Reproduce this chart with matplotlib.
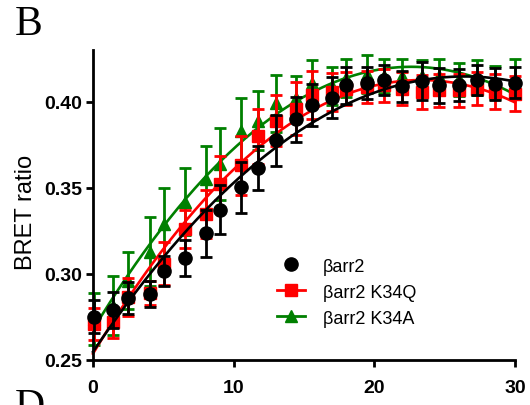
import numpy as np
import matplotlib
matplotlib.use("Agg")
import matplotlib.pyplot as plt
from matplotlib.lines import Line2D

# time points (min)
time = [0.07, 1.42, 2.49, 4.05, 5.05, 6.54, 8.03, 9.03, 10.5, 11.7, 13.0, 14.4,
        15.6, 17.0, 18.0, 19.5, 20.7, 22.0, 23.4, 24.6, 26.0, 27.3, 28.6, 30.0]

# beta-arrestin2 WT
wt_mean = [0.2752, 0.2791, 0.2860, 0.2884, 0.3019, 0.3093, 0.3235, 0.3372, 0.3504, 0.3615,
           0.3775, 0.3898, 0.3983, 0.4023, 0.4095, 0.4109, 0.4124, 0.4089, 0.4118, 0.4095,
           0.4095, 0.4124, 0.4101, 0.4110]
wt_err = [0.0094, 0.0103, 0.0095, 0.0076, 0.0087, 0.0106, 0.0135, 0.0143, 0.0148, 0.0130,
          0.0147, 0.0130, 0.0122, 0.0120, 0.0108, 0.0092, 0.0087, 0.0090, 0.0110, 0.0100,
          0.0092, 0.0087, 0.0092, 0.0090]

# K34Q
kq_mean = [0.2710, 0.2720, 0.2866, 0.2890, 0.3060, 0.3260, 0.3349, 0.3523, 0.3630, 0.3800,
           0.3890, 0.3960, 0.4037, 0.4058, 0.4076, 0.4085, 0.4095, 0.4075, 0.4056, 0.4066,
           0.4066, 0.4076, 0.4058, 0.4047]
kq_err = [0.0093, 0.0090, 0.0110, 0.0070, 0.0125, 0.0110, 0.0140, 0.0160, 0.0170, 0.0160,
          0.0147, 0.0155, 0.0140, 0.0110, 0.0095, 0.0095, 0.0095, 0.0095, 0.0097, 0.0095,
          0.0095, 0.0095, 0.0100, 0.0103]

# K34A
ka_mean = [0.2738, 0.2816, 0.2960, 0.3128, 0.3290, 0.3420, 0.3552, 0.3640, 0.3830, 0.3890,
           0.3990, 0.4020, 0.4110, 0.4090, 0.4140, 0.4160, 0.4150, 0.4150, 0.4150, 0.4150,
           0.4130, 0.4140, 0.4110, 0.4130]
ka_err = [0.0150, 0.0170, 0.0165, 0.0200, 0.0210, 0.0197, 0.0190, 0.0210, 0.0190, 0.0170,
          0.0165, 0.0130, 0.0130, 0.0110, 0.0110, 0.0110, 0.0100, 0.0100, 0.0090, 0.0100,
          0.0097, 0.0100, 0.0095, 0.0115]

labels = ["\u03b2arr2", "\u03b2arr2 K34Q", "\u03b2arr2 K34A"]
xticks = [0, 10, 20, 30]
yticks = [0.25, 0.30, 0.35, 0.40]

plt.rcParams['font.family'] = ['Liberation Sans', 'DejaVu Sans']

fig = plt.figure(figsize=(5.30, 4.06), dpi=100)
ax = fig.add_axes([93/530, 1-361/406, 422/530, 310/406])

series = [
    (ka_mean, ka_err, '#008000', '^', 8.5, 1),
    (kq_mean, kq_err, '#ff0000', 's', 8, 2),
    (wt_mean, wt_err, '#000000', 'o', 9.5, 3),
]
t = np.array(time)
xs = np.linspace(0, 30, 200)
for mean, err, col, mk, ms, z in series:
    m = np.array(mean)
    coef = np.polyfit(t, m, 2)
    ax.plot(xs, np.polyval(coef, xs), color=col, lw=1.9, zorder=z, clip_on=False)
    ax.errorbar(t, m, yerr=err, fmt=mk, color=col, ms=ms, ecolor=col,
                elinewidth=2, capsize=4, capthick=2, zorder=z + 0.5, clip_on=False)

ax.set_xlim(0, 30)
ax.set_ylim(0.25, 0.43)
ax.set_xticks(xticks)
ax.set_yticks(yticks)
ax.set_xticklabels([str(v) for v in xticks])
ax.set_yticklabels(["%.2f" % v for v in yticks])
for s in ['top', 'right']:
    ax.spines[s].set_visible(False)
for s in ['left', 'bottom']:
    ax.spines[s].set_linewidth(2)
ax.tick_params(axis='both', width=2, length=5, labelsize=14)
ax.tick_params(axis='y', pad=3)
ax.tick_params(axis='x', pad=9)
for lab in ax.get_xticklabels() + ax.get_yticklabels():
    lab.set_fontweight('bold')

ax.set_ylabel("BRET ratio", fontsize=17)
ax.yaxis.set_label_coords(-0.132, 0.48)

handles = [
    Line2D([], [], color='#000000', marker='o', ms=9.5, lw=0),
    Line2D([], [], color='#ff0000', marker='s', ms=8, lw=2),
    Line2D([], [], color='#008000', marker='^', ms=8.5, lw=2),
]
ax.legend(handles, labels, loc='upper left', bbox_to_anchor=(0.435, 0.33),
          frameon=False, fontsize=13, handlelength=1.6, handletextpad=0.95,
          labelspacing=0.5, borderpad=0, borderaxespad=0)

fig.text(15/530, 1-35/406, "B", fontsize=30, family='Liberation Serif')
fig.text(15/530, 1-418/406, "D", fontsize=30, family='Liberation Serif')

fig.savefig("out.png", dpi=100)
